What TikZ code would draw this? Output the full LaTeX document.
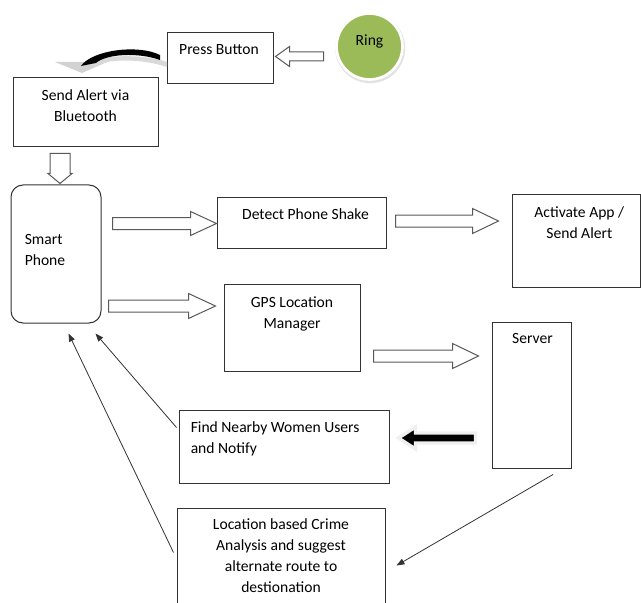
\documentclass[tikz,border=0pt]{standalone}
\usepackage{fontspec}
\setmainfont{Carlito}
\usepackage{tikz}
\usetikzlibrary{calc, fit, shadows, arrows.meta}
\definecolor{ringGreen}{HTML}{9BBB59}

\begin{document}
\begin{tikzpicture}[x=0.75pt, y=-0.75pt,
    box/.style={draw=black!80, line width=0.75pt, inner sep=0pt},
    lbl/.style={font=\fontsize{11.7pt}{15.75pt}\selectfont, inner sep=0pt, align=center, anchor=north},
    hollow/.style={draw=black!65, fill=white, line width=0.75pt},
    solid/.style={draw=gray!12, fill=black, line width=2.5pt},
    link/.style={draw=black!80, line width=0.6pt, -{Triangle[length=6pt, width=4.5pt]}},
    pics/blockarrow/.style n args={4}{code={
        \filldraw (0,-#3) -- (#1-#2,-#3) -- (#1-#2,-#4) -- (#1,0) -- (#1-#2,#4) -- (#1-#2,#3) -- (0,#3) -- cycle;
    }}]
    \fill[white] (0,0) rectangle (641,602);
    \useasboundingbox (0,0) rectangle (641,602);

    \node[box, fit={(167,33)(273,84)}, label={[lbl, xshift=-0.75pt, yshift=-9pt]north:Press Button}] (press) {};
    \node[box, fit={(13,78)(158,147)}, label={[lbl, yshift=-9pt]north:Send Alert via\\Bluetooth}] (alert) {};
    \node[box, rounded corners=9pt, fit={(11,185)(101,323)},
        label={[lbl, anchor=north west, align=left, xshift=10.5pt, yshift=-37.5pt]north west:Smart\\Phone}] (phone) {};
    \node[box, fit={(217,197)(386,248)}, label={[lbl, xshift=3pt, yshift=-9pt]north:Detect Phone Shake}] (detect) {};
    \node[box, fit={(512,194)(640,287)}, label={[lbl, xshift=2.5pt, yshift=-9.75pt]north:Activate App /\\Send Alert}] (activate) {};
    \node[box, fit={(224,284)(360,371)}, label={[lbl, yshift=-9.75pt]north:GPS Location\\Manager}] (gps) {};
    \node[box, fit={(492,322)(571,468)}, label={[lbl, xshift=0.75pt, yshift=-9pt]north:Server}] (server) {};
    \node[box, fit={(179,410)(389,483)},
        label={[lbl, anchor=north west, align=left, xshift=9pt, yshift=-9pt]north west:Find Nearby Women Users\\and Notify}] (find) {};
    \node[box, fit={(177,508)(385,620)},
        label={[lbl, yshift=-8.25pt]north:Location based Crime\\Analysis and suggest\\alternate route to\\destionation}] (crime) {};
    \node[circle, fill=ringGreen, draw=white, line width=2pt, minimum size=49.5pt, inner sep=0pt,
        drop shadow={shadow scale=1.06, shadow xshift=0.5pt, shadow yshift=-1.2pt, fill=black!22},
        font=\fontsize{11.7pt}{15.75pt}\selectfont, text height=7.5pt, text depth=9.7pt] (ring) at (369.5,46.5) {Ring};

    \fill[gray!35] (55,62) -- (107,62) -- (82,73) -- cycle;
    \fill[gray!30] (86,64) .. controls (100,55) and (140,53) .. (167,62) -- (167,67)
        .. controls (140,58) and (106,59) .. (96,66) -- cycle;
    \fill[black] (81,66) .. controls (92,50) and (138,44) .. (160,55) -- (160,60)
        .. controls (138,52) and (106,54) .. (96,63) -- cycle;

    \pic[hollow, rotate=180] at ($(press.east)+(50,-2)$) {blockarrow={48}{14}{4.5}{10}};
    \pic[hollow, rotate=-90] at ($(alert.south)+(-25.5,6)$) {blockarrow={30}{10}{10}{12}};
    \pic[hollow] at ($(phone.east)+(11,-30.5)$) {blockarrow={104}{26}{6}{12}};
    \pic[hollow] at ($(detect.east)+(9,-1.5)$) {blockarrow={103}{26}{6}{12.5}};
    \pic[hollow] at ($(phone.east)+(7,52)$) {blockarrow={107}{27}{6}{12.5}};
    \pic[hollow] at ($(gps.east)+(13,28.5)$) {blockarrow={105}{26}{6}{12.5}};
    \pic[solid, rotate=180] at ($(server.west)+(-16,43)$) {blockarrow={77}{17}{5}{11}};

    \draw[link] ($(find.north west)+(-2,18)$) -- ($(phone.south east)+(-6,10)$);
    \draw[link] ($(crime.north west)+(-3,45)$) -- ($(phone.south)+(12.5,10)$);
    \draw[link] ($(server.south)+(21.5,6)$) -- ($(crime.north east)+(11,58)$);
\end{tikzpicture}
\end{document}
